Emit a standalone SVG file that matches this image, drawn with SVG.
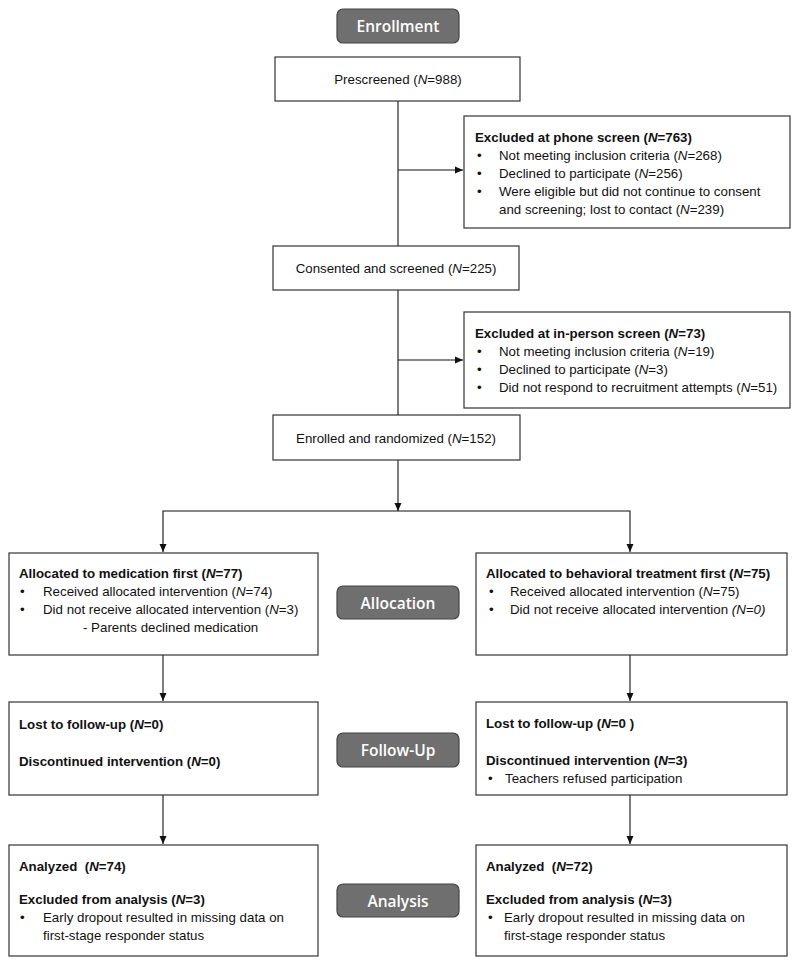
<svg xmlns="http://www.w3.org/2000/svg" width="800" height="967" viewBox="0 0 800 967">
<style>
.box{fill:#fff;stroke:#333;stroke-width:1.2}
.t{font-family:"Liberation Sans",Arial,sans-serif;font-size:13.3px;fill:#111;white-space:pre}
.b{font-weight:bold}
.i{font-style:italic}
.c{text-anchor:middle}
.pill{fill:#6f6f6f;stroke:#444;stroke-width:1.2}
.pt{font-family:"Open Sans",sans-serif;font-weight:600;font-size:15.5px;fill:#fff;text-anchor:middle}
.ln{stroke:#111;stroke-width:1.1;fill:none}
</style>
<defs>
<marker id="ah" markerWidth="8" markerHeight="8" refX="8" refY="4" orient="auto" markerUnits="userSpaceOnUse"><path d="M0,0.5 L8,4 L0,7.5 z" fill="#111"/></marker>
</defs>
<rect width="800" height="967" fill="#fff"/>

<g id="connectors">
<path class="ln" d="M398,101 V246"/>
<path class="ln" d="M398,170 H463" marker-end="url(#ah)"/>
<path class="ln" d="M398,290 V415"/>
<path class="ln" d="M398,360 H463" marker-end="url(#ah)"/>
<path class="ln" d="M398,460 V511" marker-end="url(#ah)"/>
<path class="ln" d="M398,511 H163 V552" marker-end="url(#ah)"/>
<path class="ln" d="M398,511 H630 V552" marker-end="url(#ah)"/>
<path class="ln" d="M163,655 V701" marker-end="url(#ah)"/>
<path class="ln" d="M630,655 V701" marker-end="url(#ah)"/>
<path class="ln" d="M163,795 V844" marker-end="url(#ah)"/>
<path class="ln" d="M630,795 V844" marker-end="url(#ah)"/>
</g>

<g id="stage-enrollment">
<rect class="pill" x="337" y="9" width="122" height="34" rx="6"/>
<text class="pt" x="398" y="32">Enrollment</text>
</g>

<g id="prescreened">
<rect class="box" x="275" y="57" width="245" height="44"/>
<text class="t c" x="398" y="84">Prescreened (<tspan class="i">N</tspan>=988)</text>
</g>

<g id="excluded-phone">
<rect class="box" x="464" y="116" width="326" height="112"/>
<text class="t b" x="475" y="142">Excluded at phone screen (<tspan class="i">N</tspan>=763)</text>
<text class="t" x="477" y="160">•</text><text class="t" x="499" y="160">Not meeting inclusion criteria (<tspan class="i">N</tspan>=268)</text>
<text class="t" x="477" y="178">•</text><text class="t" x="499" y="178">Declined to participate (<tspan class="i">N</tspan>=256)</text>
<text class="t" x="477" y="196">•</text><text class="t" x="499" y="196">Were eligible but did not continue to consent</text>
<text class="t" x="499" y="214">and screening; lost to contact (<tspan class="i">N</tspan>=239)</text>
</g>

<g id="consented">
<rect class="box" x="273" y="246" width="246" height="44"/>
<text class="t c" x="396" y="273">Consented and screened (<tspan class="i">N</tspan>=225)</text>
</g>

<g id="excluded-inperson">
<rect class="box" x="464" y="312" width="326" height="96"/>
<text class="t b" x="475" y="338">Excluded at in-person screen (<tspan class="i">N</tspan>=73)</text>
<text class="t" x="477" y="356">•</text><text class="t" x="499" y="356">Not meeting inclusion criteria (<tspan class="i">N</tspan>=19)</text>
<text class="t" x="477" y="374">•</text><text class="t" x="499" y="374">Declined to participate (<tspan class="i">N</tspan>=3)</text>
<text class="t" x="477" y="392">•</text><text class="t" x="499" y="392">Did not respond to recruitment attempts (<tspan class="i">N</tspan>=51)</text>
</g>

<g id="enrolled">
<rect class="box" x="273" y="415" width="247" height="45"/>
<text class="t c" x="396" y="443">Enrolled and randomized (<tspan class="i">N</tspan>=152)</text>
</g>

<g id="alloc-medication">
<rect class="box" x="9" y="553" width="309" height="102"/>
<text class="t b" x="19" y="578">Allocated to medication first (<tspan class="i">N</tspan>=77)</text>
<text class="t" x="20" y="596">•</text><text class="t" x="43" y="596">Received allocated intervention (<tspan class="i">N</tspan>=74)</text>
<text class="t" x="20" y="614">•</text><text class="t" x="43" y="614">Did not receive allocated intervention (<tspan class="i">N</tspan>=3)</text>
<text class="t" x="83" y="632">- Parents declined medication</text>
</g>

<g id="stage-allocation">
<rect class="pill" x="337" y="586" width="122" height="33" rx="6"/>
<text class="pt" x="398" y="609">Allocation</text>
</g>

<g id="alloc-behavioral">
<rect class="box" x="476" y="553" width="311" height="102"/>
<text class="t b" x="486" y="578">Allocated to behavioral treatment first (<tspan class="i">N</tspan>=75)</text>
<text class="t" x="489" y="596">•</text><text class="t" x="510" y="596">Received allocated intervention (<tspan class="i">N</tspan>=75)</text>
<text class="t" x="489" y="614">•</text><text class="t" x="510" y="614">Did not receive allocated intervention <tspan class="i">(N=0)</tspan></text>
</g>

<g id="followup-medication">
<rect class="box" x="9" y="702" width="309" height="93"/>
<text class="t b" x="19" y="729">Lost to follow-up (<tspan class="i">N</tspan>=0)</text>
<text class="t b" x="19" y="766">Discontinued intervention (<tspan class="i">N</tspan>=0)</text>
</g>

<g id="stage-followup">
<rect class="pill" x="337" y="733" width="122" height="34" rx="6"/>
<text class="pt" x="398" y="756">Follow-Up</text>
</g>

<g id="followup-behavioral">
<rect class="box" x="476" y="702" width="311" height="93"/>
<text class="t b" x="486" y="728">Lost to follow-up (<tspan class="i">N</tspan>=0 )</text>
<text class="t b" x="486" y="765">Discontinued intervention (<tspan class="i">N</tspan>=3)</text>
<text class="t" x="488" y="783">•</text><text class="t" x="505" y="783">Teachers refused participation</text>
</g>

<g id="analysis-medication">
<rect class="box" x="9" y="845" width="309" height="111"/>
<text class="t b" x="19" y="871">Analyzed  (<tspan class="i">N</tspan>=74)</text>
<text class="t b" x="19" y="904">Excluded from analysis (<tspan class="i">N</tspan>=3)</text>
<text class="t" x="20" y="922">•</text><text class="t" x="43" y="922">Early dropout resulted in missing data on</text>
<text class="t" x="43" y="940">first-stage responder status</text>
</g>

<g id="stage-analysis">
<rect class="pill" x="337" y="884" width="122" height="33" rx="6"/>
<text class="pt" x="398" y="907">Analysis</text>
</g>

<g id="analysis-behavioral">
<rect class="box" x="476" y="845" width="311" height="111"/>
<text class="t b" x="486" y="871">Analyzed  (<tspan class="i">N</tspan>=72)</text>
<text class="t b" x="486" y="904">Excluded from analysis (<tspan class="i">N</tspan>=3)</text>
<text class="t" x="488" y="922">•</text><text class="t" x="504" y="922">Early dropout resulted in missing data on</text>
<text class="t" x="504" y="940">first-stage responder status</text>
</g>
</svg>
